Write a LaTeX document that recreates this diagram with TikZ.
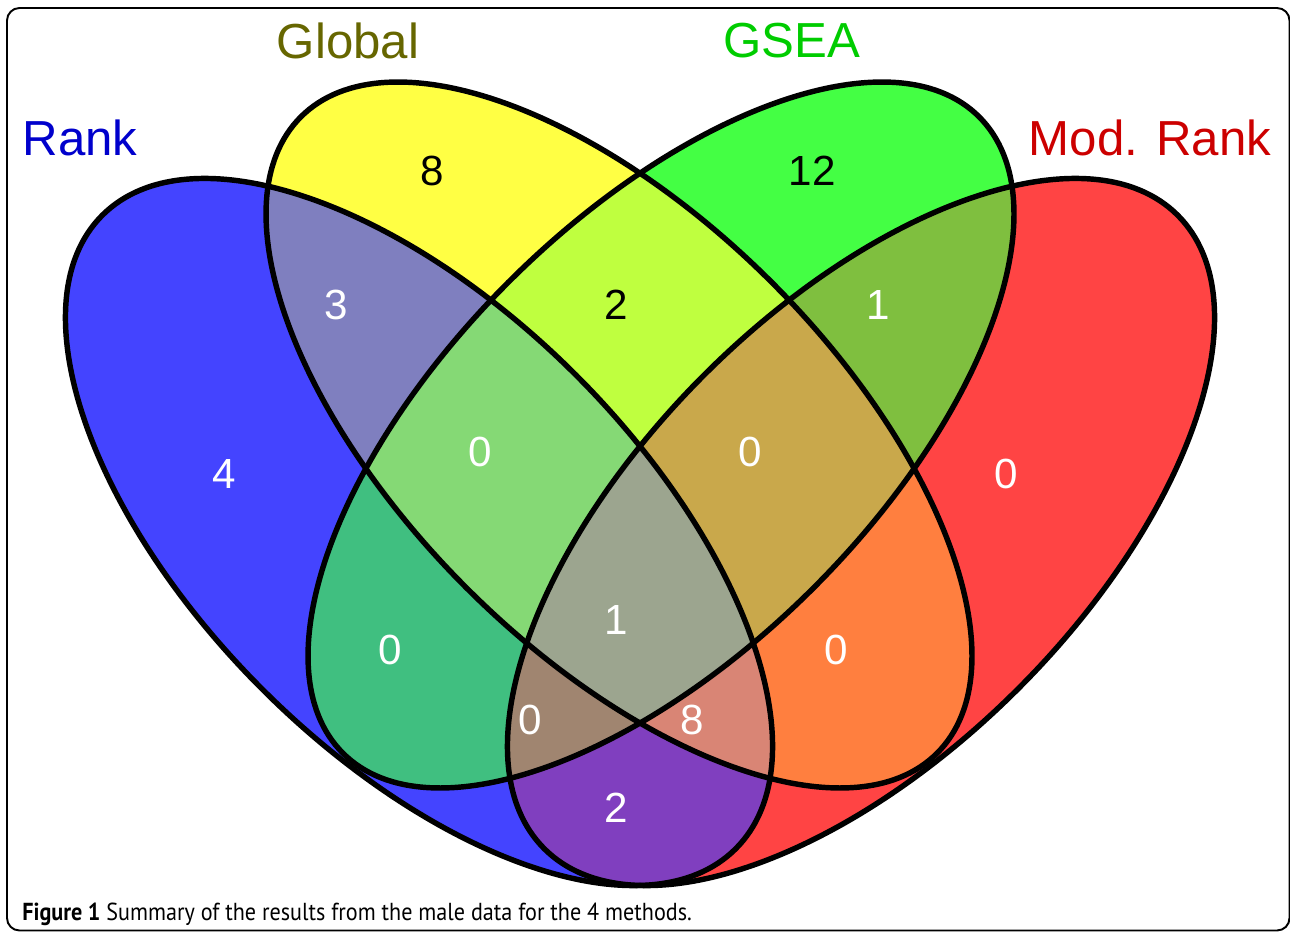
\documentclass[tikz,border=0pt]{standalone}
\usepackage{fontspec}
\setmainfont{Liberation Sans}
\newfontfamily\capfont[FakeStretch=0.9]{PT Sans}
\usepackage{xcolor}

% set colours
\definecolor{rankblue}{HTML}{4444FF}
\definecolor{globalyellow}{HTML}{FFFF44}
\definecolor{gseagreen}{HTML}{44FF44}
\definecolor{modred}{HTML}{FF4444}
% overlaps
\definecolor{colRG}{HTML}{7F7FBF}
\definecolor{colRS}{HTML}{40BF80}
\definecolor{colRM}{HTML}{803FBF}
\definecolor{colGS}{HTML}{BFFF3F}
\definecolor{colGM}{HTML}{FF7F3F}
\definecolor{colSM}{HTML}{7FBF3F}
\definecolor{colRGS}{HTML}{85D975}
\definecolor{colRGM}{HTML}{D98575}
\definecolor{colRSM}{HTML}{A08570}
\definecolor{colGSM}{HTML}{C9A84B}
\definecolor{colAll}{HTML}{9CA58F}
% label colours
\definecolor{rankText}{HTML}{0000CC}
\definecolor{globalText}{HTML}{666600}
\definecolor{gseaText}{HTML}{00CC00}
\definecolor{modText}{HTML}{CC0000}

\begin{document}
\begin{tikzpicture}[x=0.02cm, y=-0.02cm,
    outline/.style={draw=black, line width=3.1pt},
    setname/.style={font=\fontsize{28}{30}\selectfont, inner sep=0pt},
    count/.style={font=\fontsize{24}{26}\selectfont, text=white, inner sep=0pt},
    darkcount/.style={count, text=black}]
  \useasboundingbox (0,0) rectangle (1290,932);
  \draw[line width=1.1pt, rounded corners=0.25cm] (7,8) rectangle (1289.5,930.5);

  \coordinate (cR) at (419,532);
  \coordinate (cG) at (619,435);
  \coordinate (cS) at (661,435);
  \coordinate (cM) at (861,532);
  \def\ellR{(cR) circle [x radius=8.96cm, y radius=4.44cm, rotate=-45]}
  \def\ellG{(cG) circle [x radius=9cm, y radius=4.32cm, rotate=-45]}
  \def\ellS{(cS) circle [x radius=9cm, y radius=4.32cm, rotate=45]}
  \def\ellM{(cM) circle [x radius=8.96cm, y radius=4.44cm, rotate=45]}

  % one set
  \fill[rankblue] \ellR;
  \fill[globalyellow] \ellG;
  \fill[gseagreen] \ellS;
  \fill[modred] \ellM;

  % two sets
  \foreach \a/\b/\c in {\ellR/\ellG/colRG, \ellR/\ellS/colRS, \ellR/\ellM/colRM,
      \ellG/\ellS/colGS, \ellG/\ellM/colGM, \ellS/\ellM/colSM}{
    \begin{scope}
      \clip \a;
      \fill[\c] \b;
    \end{scope}
  }

  % three sets
  \foreach \a/\b/\d/\c in {\ellR/\ellG/\ellS/colRGS, \ellR/\ellG/\ellM/colRGM,
      \ellR/\ellS/\ellM/colRSM, \ellG/\ellS/\ellM/colGSM}{
    \begin{scope}
      \clip \a;
      \clip \b;
      \fill[\c] \d;
    \end{scope}
  }

  % all four
  \begin{scope}
    \clip \ellR;
    \clip \ellG;
    \clip \ellS;
    \fill[colAll] \ellM;
  \end{scope}

  \foreach \a in {\ellR, \ellG, \ellS, \ellM}
    \draw[outline] \a;

  % set names
  \path
  (80,138) node[setname, text=rankText](rank){Rank}
  (348,41) node[setname, text=globalText](global){Global}
  (792,41) node[setname, text=gseaText](gsea){GSEA}
  (1150,138) node[setname, text=modText](modrank){Mod. Rank};

  % counts
  \path
  (224,474) node[count](nR){4}
  (432,171) node[darkcount](nG){8}
  (812,171) node[darkcount](nS){12}
  (1006,474) node[count](nM){0}
  (336,305) node[count](nRG){3}
  (616,305) node[darkcount](nGS){2}
  (878,305) node[count](nSM){1}
  (480,452) node[count](nRGS){0}
  (750,452) node[count](nGSM){0}
  (390,650) node[count](nRS){0}
  (616,620) node[count](nAll){1}
  (836,650) node[count](nGM){0}
  (530,720) node[count](nRSM){0}
  (692,720) node[count](nRGM){8}
  (616,808) node[count](nRM){2};

  \node[anchor=base west, inner sep=0pt, font=\capfont\fontsize{14}{16}\selectfont]
    (caption) at (22,920) {\textbf{Figure 1} Summary of the results from the male data for the 4 methods.};
\end{tikzpicture}
\end{document}
